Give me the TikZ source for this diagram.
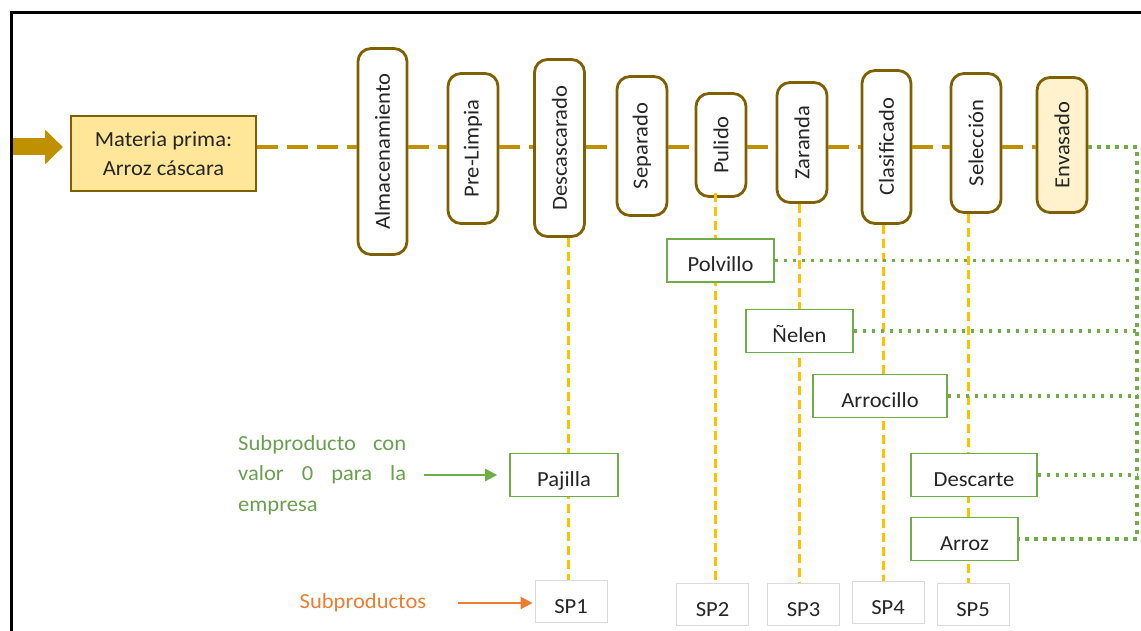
\documentclass[tikz,border=0pt]{standalone}
\usepackage{fontspec}
\setmainfont{Carlito}[FakeStretch=1.05]
\usetikzlibrary{arrows.meta}
\definecolor{gold}{HTML}{BF9000}
\definecolor{brownb}{HTML}{7F6000}
\definecolor{ylw}{HTML}{FFC000}
\definecolor{grn}{HTML}{70AD47}
\definecolor{orng}{HTML}{ED7D31}
\definecolor{mpfill}{HTML}{FFE699}
\definecolor{envfill}{HTML}{FFF2CC}
\definecolor{txtgrn}{HTML}{6A9F50}
\definecolor{spgray}{HTML}{DADADA}
\definecolor{txt}{HTML}{262626}
\begin{document}
\begin{tikzpicture}[x=1pt,y=-1pt,
  font=\fontsize{21.5}{29}\selectfont,
  proc/.style={draw=brownb, line width=2.8pt, rounded corners=13pt, fill=white,
    rotate=90, inner sep=0pt, text=txt, minimum height=49pt},
  mpbox/.style={draw=brownb, line width=2.2pt, fill=mpfill, inner sep=0pt,
    minimum width=185pt, minimum height=75pt, align=center, text=txt},
  gbox/.style={draw=grn, line width=1.6pt, fill=white, inner sep=0pt,
    minimum height=43pt, text height=22pt, text depth=0pt, text=txt},
  spbox/.style={draw=spgray, line width=0.8pt, fill=white, inner sep=0pt,
    minimum width=72pt, minimum height=42pt, text height=24pt, text depth=0pt, text=txt},
  mainline/.style={draw=gold, line width=4.5pt, dash pattern=on 21pt off 9pt},
  yline/.style={draw=ylw, line width=3pt, dash pattern=on 9pt off 5pt},
  gline/.style={draw=grn, line width=3.6pt, dash pattern=on 3.6pt off 5.4pt},
  garrow/.style={draw=grn, line width=2.5pt, -{Triangle[length=12pt,width=12pt]}},
  oarrow/.style={draw=orng, line width=2.5pt, -{Triangle[length=12pt,width=12pt]}}
]
\useasboundingbox (0,0) rectangle (1141,631);

% input arrow and raw material
\node[mpbox] (mp) at (163.5,153.5) {Materia prima:\\Arroz cáscara};
\coordinate (fa) at (11,147);
\coordinate (ml) at (0,147);
\draw[gold, line width=17pt, -{Triangle[length=18pt,width=34pt]}, shorten >=7pt] (fa) -- (mp.west |- fa);

% process boxes
\node[proc, minimum width=206pt, minimum height=49pt] (alm) at (382.5,151.5) {Almacenamiento};
\node[proc, minimum width=150pt, minimum height=50pt] (pre) at (473,148.5) {Pre-Limpia};
\node[proc, minimum width=177pt, minimum height=50pt] (desc) at (559.5,148) {Descascarado};
\node[proc, minimum width=139pt, minimum height=50pt] (sep) at (642,146) {Separado};
\node[proc, minimum width=103pt, minimum height=50pt] (pul) at (721,145) {Pulido};
\node[proc, minimum width=120pt, minimum height=50pt] (zar) at (802,142.5) {Zaranda};
\node[proc, minimum width=153pt, minimum height=49pt] (cla) at (886.5,147) {Clasificado};
\node[proc, minimum width=139pt, minimum height=50pt] (sel) at (976,143) {Selección};
\node[proc, fill=envfill, minimum width=135pt, minimum height=50pt] (env) at (1062,145) {Envasado};

% main dashed flow
\draw[mainline] (mp.east |- ml) -- (alm.north |- ml);
\draw[mainline] (alm.south |- ml) -- (pre.north |- ml);
\draw[mainline] (pre.south |- ml) -- (desc.north |- ml);
\draw[mainline] (desc.south |- ml) -- (sep.north |- ml);
\draw[mainline] (sep.south |- ml) -- (pul.north |- ml);
\draw[mainline] (pul.south |- ml) -- (zar.north |- ml);
\draw[mainline] (zar.south |- ml) -- (cla.north |- ml);
\draw[mainline] (cla.south |- ml) -- (sel.north |- ml);
\draw[mainline] (sel.south |- ml) -- (env.north |- ml);

% by-product boxes
\node[spbox] (sp1) at (571,601.5) {SP1};
\node[spbox] (sp2) at (712.5,604) {SP2};
\node[spbox] (sp3) at (803.5,604) {SP3};
\node[spbox] (sp4) at (888,602.5) {SP4};
\node[spbox] (sp5) at (973,604) {SP5};

% yellow dashed drops
\coordinate (x1) at (568,0);
\coordinate (x2) at (715,0);
\coordinate (x3) at (799,0);
\coordinate (x4) at (883,0);
\coordinate (x5) at (968,0);
\draw[yline] (x1 |- desc.west) -- (x1 |- sp1.north);
\draw[yline] ([yshift=5pt]x2 |- pul.west) -- (x2 |- sp2.north);
\draw[yline] (x3 |- zar.west) -- (x3 |- sp3.north);
\draw[yline] (x4 |- cla.west) -- (x4 |- sp4.north);
\draw[yline] (x5 |- sel.west) -- (x5 |- sp5.north);

% green boxes
\node[gbox, minimum width=107pt] (pol) at (720.5,260.5) {Polvillo};
\node[gbox, minimum width=107pt] (nel) at (799.5,331) {Ñelen};
\node[gbox, minimum width=134pt] (arc) at (880,396) {Arrocillo};
\node[gbox, minimum width=126pt] (des) at (974,475) {Descarte};
\node[gbox, minimum width=107pt] (arz) at (964.5,539) {Arroz};
\node[gbox, minimum width=108pt] (paj) at (564,475) {Pajilla};

% green dotted collector
\coordinate (g1) at (1137,147);
\draw[gline] (env.south |- ml) -- (g1) -- (g1 |- arz.east) -- (arz.east);
\draw[gline] (pol.east) -- (pol.east -| g1);
\draw[gline] (nel.east) -- (nel.east -| g1);
\draw[gline] (arc.east) -- (arc.east -| g1);
\draw[gline] (des.east) -- (des.east -| g1);

% legend
\node[anchor=north west, text width=168pt, align=left, inner sep=0pt, text=txtgrn,
  font=\fontsize{21.5}{30.5}\selectfont] (lbl) at (238,435)
  {Subproducto\hfill con\\valor\hfill 0\hfill para\hfill la\\empresa};
\coordinate (ga) at (424,475);
\draw[garrow, shorten >=12pt] (ga) -- (paj.west);
\node[text=orng, inner sep=0pt] (sublbl) at (363,603) {Subproductos};
\coordinate (oa) at (458,603);
\draw[oarrow, shorten >=2pt] (oa) -- (oa -| sp1.west);

% frame
\coordinate (fr1) at (1141,12.5);
\coordinate (fr2) at (11,12.5);
\coordinate (fr3) at (11,631);
\draw[black, line width=3pt] (fr1) -- (fr2) -- (fr3);
\end{tikzpicture}
\end{document}
